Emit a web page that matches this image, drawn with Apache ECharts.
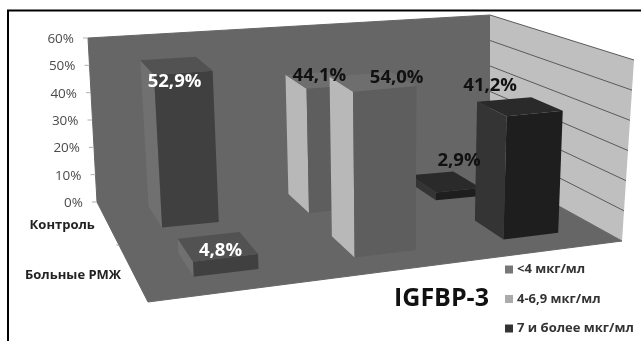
<!DOCTYPE html>
<html>
<head>
<meta charset="utf-8">
<style>html,body{margin:0;padding:0;background:#fff}#chart{width:641px;height:341px}</style>
<script src="https://cdn.jsdelivr.net/npm/echarts@6/dist/echarts.min.js"></script>
</head>
<body>
<div id="chart"></div>
<script>
// Values, in percent
const seriesNames = ['<4 мкг/мл', '4-6,9 мкг/мл', '7 и более мкг/мл'];
const rowNames = ['Контроль', 'Больные РМЖ'];
const controlValues = [52.9, 44.1, 2.9];
const patientValues = [4.8, 54.0, 41.2];
const valueTicks = [0, 10, 20, 30, 40, 50, 60];

// Data labels use the comma as decimal separator
const percent = v => v.toFixed(1).replace('.', ',') + '%';

const W = 641, H = 341;
const FONT = '"Open Sans", "Noto Sans", sans-serif';

// Corners of the 3D box on screen: back-left, back-right, front-right, front-left
const floorQuad = [[97, 202], [490, 168], [622, 241], [148, 302]];
const ceilQuad = [[88, 38], [490, 15], [634, 60], [132, 108]];

// Unit square to quadrilateral perspective map
function quadMap(q) {
  const [[x0, y0], [x1, y1], [x2, y2], [x3, y3]] = q;
  const sx = x0 - x1 + x2 - x3, sy = y0 - y1 + y2 - y3;
  const dx1 = x1 - x2, dx2 = x3 - x2, dy1 = y1 - y2, dy2 = y3 - y2;
  const den = dx1 * dy2 - dx2 * dy1;
  const g = (sx * dy2 - dx2 * sy) / den, h = (dx1 * sy - sx * dy1) / den;
  const a = x1 - x0 + g * x1, b = x3 - x0 + h * x3;
  const d = y1 - y0 + g * y1, e = y3 - y0 + h * y3;
  return (u, v) => {
    const w = g * u + h * v + 1;
    return [(a * u + b * v + x0) / w, (d * u + e * v + y0) / w];
  };
}
const floorAt = quadMap(floorQuad), ceilAt = quadMap(ceilQuad);

// u: across the categories, v: back to front, t: share of the value axis
function project(u, v, t) {
  const p = floorAt(u, v), q = ceilAt(u, v);
  return [p[0] + (q[0] - p[0]) * t, p[1] + (q[1] - p[1]) * t];
}

// Columns lean away from the vertical in proportion to their distance from the picture's centre
const leanRate = 2.3e-4, leanCentre = 395;
function projectBar(u, v, t) {
  const p = floorAt(u, v), y = project(u, v, t)[1];
  return [p[0] + (p[1] - y) * leanRate * (p[0] - leanCentre), y];
}

// Bar footprint inside its cell, with a small per-cell nudge, [row][series]
const rowSpans = [[0.11, 0.36], [0.63, 0.85]];
const cellWidth = [[0.36, 0.36, 0.36], [0.37, 0.40, 0.41]];
const cellShift = [[-0.006, -0.016, -0.035], [-0.005, -0.014, -0.007]];

// Shades of each series' faces
const faceColors = [
  { front: '#404040', side: '#707070', top: '#525252' },
  { front: '#5e5e5e', side: '#b8b8b8', top: '#6e6e6e' },
  { front: '#1e1e1e', side: '#343434', top: '#2a2a2a' }
];
const legendColors = ['#777777', '#ababab', '#333333'];

// Label centres relative to each bar's top face, [row][series]
const labelShift = [
  [[-5, 16], [-6, -4], [14, -21]],
  [[3, 4], [17, -4], [-32, -21]]
];
const labelFill = [['#ffffff', '#111111', '#111111'], ['#ffffff', '#111111', '#111111']];

function poly(points, fill, z2, seal) {
  const style = { fill };
  if (seal) { style.stroke = fill; style.lineWidth = 1; }
  return { type: 'polygon', z2, shape: { points }, style };
}
function text(str, x, y, font, fill, align, z2) {
  return { type: 'text', z2, style: { text: str, x, y, font, fill, align, verticalAlign: 'middle' } };
}
function line(a, b, stroke, z2, width) {
  return { type: 'line', z2, shape: { x1: a[0], y1: a[1], x2: b[0], y2: b[1] }, style: { stroke, lineWidth: width || 1 } };
}

// Walls, floor, gridlines and axis text
function renderFrame(params, api) {
  const children = [];
  children.push(poly([project(0, 0, 0), project(1, 0, 0), project(1, 0, 1), project(0, 0, 1)], '#666666', 1, true));
  children.push(poly([project(1, 0, 0), project(1, 1, 0), project(1, 1, 1), project(1, 0, 1)], '#bfbfbf', 1));
  children.push(poly([project(0, 0, 0), project(1, 0, 0), project(1, 1, 0), project(0, 1, 0)], '#666666', 2, true));
  valueTicks.forEach(tick => {
    const t = (H - api.coord([0, tick])[1]) / H;
    const p = project(0, 0, t);
    if (tick > 0) children.push(line(project(1, 0, t), project(1, 1, t), '#5a5a5a', 1));
    children.push(line([p[0] - 5, p[1]], p, '#b0b0b0', 3));
    children.push(text(tick + '%', p[0] - 14, p[1] + 1, '13.5px ' + FONT, '#4a4a4a', 'right', 3));
  });
  const mid = project(0, 0.5, 0);
  children.push(line([mid[0] - 3, mid[1] - 1], mid, '#b0b0b0', 3));
  rowNames.forEach((name, r) => {
    const c = project(0, (rowSpans[r][0] + rowSpans[r][1]) / 2, 0);
    children.push(text(name, c[0] - (r ? 11 : 12), c[1] + 4, 'bold 13px ' + FONT, '#222222', 'right', 3));
  });
  // Frame rules along the top and left of the panel
  children.push(line([7, 10.5], [W, 10.5], '#000000', 3, 2));
  children.push(line([8, 10], [8, H], '#000000', 3, 2));
  return { type: 'group', children };
}

// One 3D column: left side, front and top faces
function renderBar(params, api) {
  const cat = api.value(0), val = api.value(1), row = api.value(2);
  const base = api.coord([cat, 0]), head = api.coord([cat, val]);
  const band = api.size([1, 0])[0];
  const uc = base[0] / W + cellShift[row][cat], half = band * cellWidth[row][cat] / 2 / W;
  const t = (base[1] - head[1]) / H;
  const [v0, v1] = rowSpans[row];
  const u0 = uc - half, u1 = uc + half;
  const c = faceColors[params.seriesIndex - 1];
  const z = 10 + row * 10 + cat;
  const top = (u, v) => projectBar(u, v, t), bot = (u, v) => projectBar(u, v, 0);
  const center = project(uc, (v0 + v1) / 2, t);
  const shift = labelShift[row][cat];
  return {
    type: 'group',
    children: [
      poly([bot(u0, v0), bot(u0, v1), top(u0, v1), top(u0, v0)], c.side, z),
      poly([bot(u0, v1), bot(u1, v1), top(u1, v1), top(u0, v1)], c.front, z),
      poly([top(u0, v0), top(u1, v0), top(u1, v1), top(u0, v1)], c.top, z),
      text(percent(val), center[0] + shift[0], center[1] + shift[1], 'bold 18.5px ' + FONT, labelFill[row][cat], 'center', 50)
    ]
  };
}

const barSeries = seriesNames.map((name, i) => ({
  type: 'custom',
  name,
  coordinateSystem: 'cartesian2d',
  renderItem: renderBar,
  itemStyle: { color: legendColors[i] },
  encode: { x: 0, y: 1 },
  animation: false,
  silent: true,
  data: [[i, controlValues[i], 0], [i, patientValues[i], 1]]
}));

const chart = echarts.init(document.getElementById('chart'), null, { renderer: 'canvas' });
chart.setOption({
  backgroundColor: '#ffffff',
  animation: false,
  title: {
    text: 'IGFBP-3', left: 389, top: 281,
    textStyle: { fontFamily: FONT, fontWeight: 'bold', fontSize: 25, color: '#111111' }
  },
  legend: {
    orient: 'vertical', left: 500, top: 258, itemWidth: 8, itemHeight: 8, itemGap: 16.5,
    icon: 'rect', data: seriesNames, selectedMode: false,
    textStyle: { fontFamily: FONT, fontWeight: 'bold', fontSize: 13, color: '#333333', padding: [0, 0, 0, -1] }
  },
  // Hidden axes span the canvas; the projection turns their pixels into box coordinates
  grid: { left: 0, right: 0, top: 0, bottom: 0 },
  xAxis: { type: 'category', data: [0, 1, 2], show: false },
  yAxis: { type: 'value', min: 0, max: 60, interval: 10, show: false },
  series: [
    { type: 'custom', name: 'frame', renderItem: renderFrame, silent: true, animation: false, data: [[0, 0]], encode: { x: 0, y: 1 } }
  ].concat(barSeries)
});
</script>
</body>
</html>
